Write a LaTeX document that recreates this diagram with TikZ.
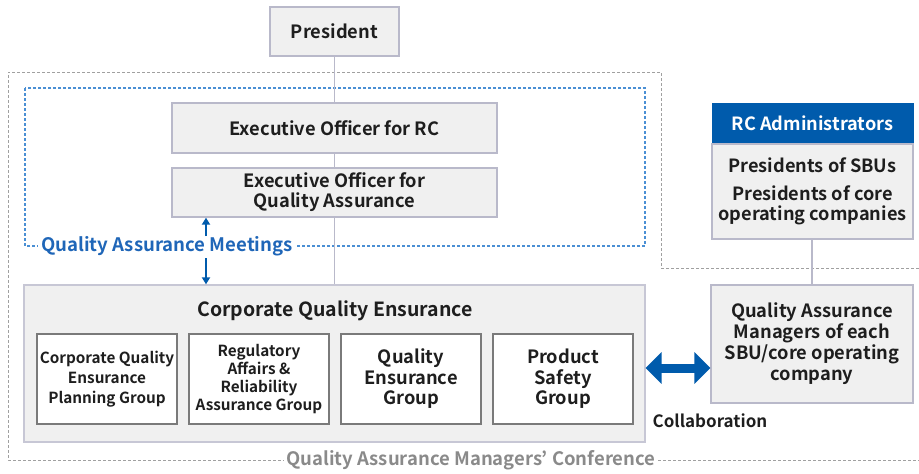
\documentclass[tikz,border=0pt]{standalone}
\usepackage{fontspec}
\setmainfont{Noto Sans CJK JP}[BoldFont={Noto Sans CJK JP Bold}]
\usetikzlibrary{arrows.meta,calc}
\definecolor{boxfill}{HTML}{F0F0F0}
\definecolor{boxline}{HTML}{B9B9CA}
\definecolor{innerline}{HTML}{7A7A7A}
\definecolor{hdrblue}{HTML}{005BAC}
\definecolor{dashgray}{HTML}{A0A0A0}
\definecolor{dashblue}{HTML}{4A8FD4}
\definecolor{txtblue}{HTML}{1F66B8}
\definecolor{txtgray}{HTML}{8A8A8A}
\definecolor{txtblack}{HTML}{1E1E1E}
\tikzset{
  mainfont/.style={font=\bfseries\fontsize{18.3}{20}\selectfont, text=txtblack},
  smallfont/.style={font=\bfseries\fontsize{15.3}{20}\selectfont, text=txtblack},
  orgbox/.style={draw=boxline, fill=boxfill, line width=1.3pt, inner sep=0pt, align=center, mainfont},
  innerbox/.style={draw=innerline, fill=white, line width=1.1pt, inner sep=0pt, align=center, smallfont, minimum width=140pt, minimum height=90pt},
  hdrbox/.style={draw=hdrblue, fill=hdrblue, inner sep=0pt, align=center, font=\bfseries\fontsize{18.2}{20}\selectfont, text=white},
  conn/.style={draw=boxline, line width=1.3pt},
  grayframe/.style={draw=dashgray, line width=1pt, dash pattern=on 3pt off 2pt},
  blueframe/.style={draw=dashblue, line width=1.2pt, dash pattern=on 3pt off 2pt},
  bluearrow/.style={draw=hdrblue, line width=1.8pt, -{Triangle[width=8pt,length=7pt]}},
  bigarrow/.style={draw=hdrblue, line width=9pt, {Triangle[width=31pt,length=16pt]}-{Triangle[width=31pt,length=16pt]}},
}
\begin{document}
\begin{tikzpicture}[x=1pt,y=-1pt]
\useasboundingbox (0,0) rectangle (919,474);
% outer gray frame
\draw[grayframe] (919,268) -- (661,268) -- (661,72) -- (8,72) -- (8,460) -- (919,460);
% blue frame
\draw[blueframe] (25,88) rectangle (645,246);
% nodes
\node[orgbox, minimum width=129pt, minimum height=49pt] (pres) at (334.5,31.5) {President};
\node[orgbox, minimum width=325pt, minimum height=50pt] (erc) at (334.5,128) {Executive Officer for RC};
\node[orgbox, minimum width=325pt, minimum height=49pt] (eqa) at (334.5,192.5) {Executive Officer for\\Quality Assurance};
\node[orgbox, draw=boxline!80, minimum width=621pt, minimum height=157pt] (cqe) at (334.5,363.5) {};
\node[font=\bfseries\fontsize{19.5}{20}\selectfont, text=txtblack] (cqet) at (335,311) {Corporate Quality Ensurance};
\node[innerbox] (g1) at (107,379) {Corporate Quality\\Ensurance\\Planning Group};
\node[innerbox, font=\bfseries\fontsize{15.3}{18}\selectfont] (g2) at (259,379) {Regulatory\\Affairs \&\\Reliability\\Assurance Group};
\node[innerbox, font=\bfseries\fontsize{18.3}{20.5}\selectfont] (g3) at (411,379) {Quality\\Ensurance\\Group};
\node[innerbox, font=\bfseries\fontsize{18.3}{20.5}\selectfont] (g4) at (563,379) {Product\\Safety\\Group};
\node[hdrbox, minimum width=201pt, minimum height=41pt] (rch) at (812.5,123.5) {RC Administrators};
\node[orgbox, font=\bfseries\fontsize{18.2}{20}\selectfont, minimum width=201pt, minimum height=95pt] (rcb) at (812.5,191.5) {Presidents of SBUs\\[8pt]Presidents of core\\operating companies};
\node[orgbox, font=\bfseries\fontsize{18.3}{21}\selectfont, minimum width=202pt, minimum height=118pt] (qam) at (812,344) {Quality Assurance\\Managers of each\\SBU/core operating\\company};
\node[font=\bfseries\fontsize{17}{20}\selectfont, text=txtblack] (collab) at (710,421) {Collaboration};
\node[fill=white, inner sep=3pt, font=\bfseries\fontsize{18.5}{19}\selectfont, text=txtgray] (conf) at (471,460) {Quality Assurance Managers’ Conference};
\node[fill=white, inner sep=3pt, anchor=west, font=\bfseries\fontsize{18.6}{19}\selectfont, text=txtblue] (meet) at (38,246) {Quality Assurance Meetings};
% connectors
\draw[conn] (pres.south) -- (erc.north);
\draw[conn] (erc.south) -- (eqa.north);
\draw[conn] (eqa.south) -- (cqe.north);
\draw[conn] (rcb.south -| qam.north) -- (qam.north);
\coordinate (mu) at (206,236);
\coordinate (md) at (206,258);
\draw[bluearrow] (mu) -- (mu |- eqa.south);
\draw[bluearrow] (md) -- (md |- cqe.north);
\coordinate (ar) at (0,368);
\draw[bigarrow] (cqe.east |- ar) -- (qam.west |- ar);
\end{tikzpicture}
\end{document}
